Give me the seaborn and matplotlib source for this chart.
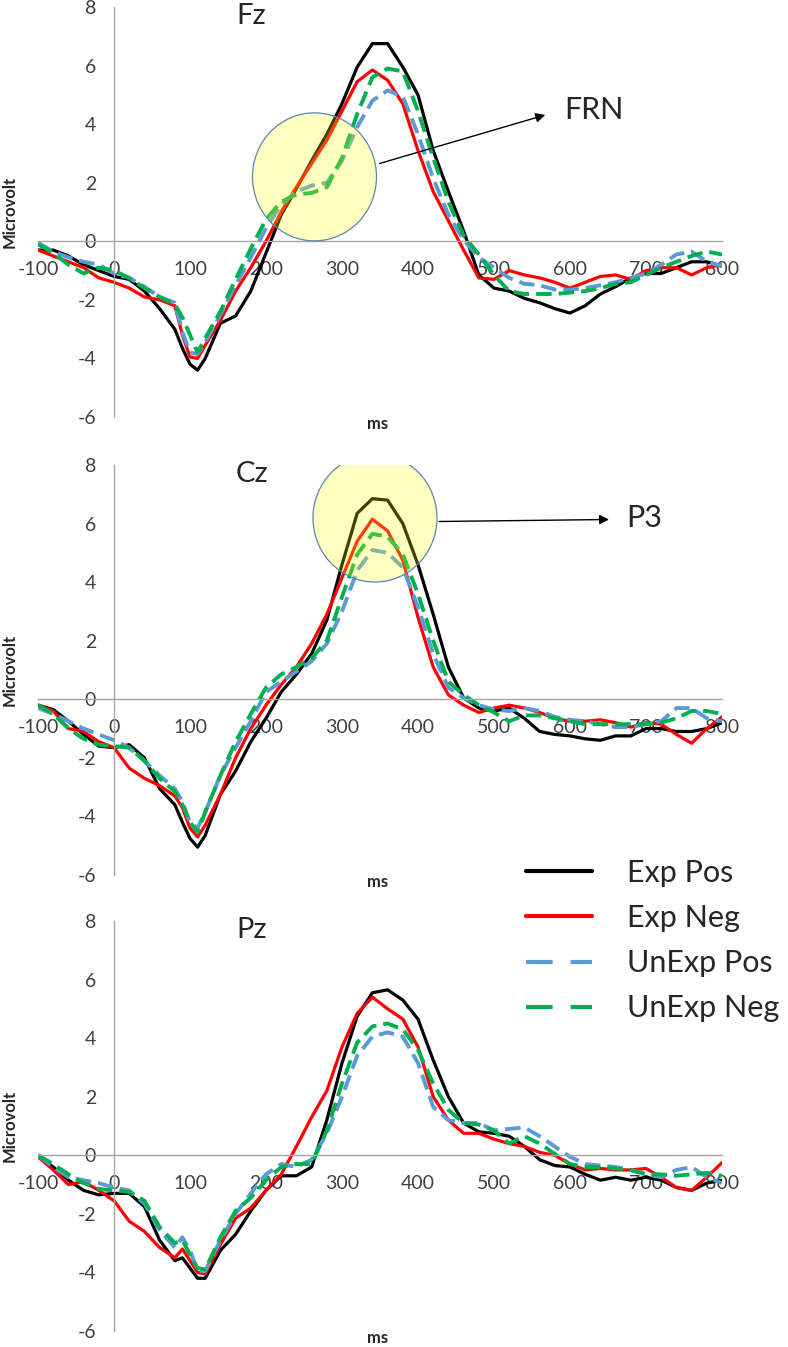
import numpy as np
import pandas as pd
import matplotlib
matplotlib.use("Agg")
import matplotlib.pyplot as plt
from matplotlib.patches import Ellipse
from matplotlib.lines import Line2D
import seaborn as sns

# time points (ms)
TIME = [-100, -80, -60, -40, -20, 0, 20, 40, 60, 80, 90, 100, 110, 120,
        140, 160, 180, 200, 220, 240, 260, 280, 300, 320, 340, 360, 380, 400,
        420, 440, 460, 480, 500, 520, 540, 560, 580, 600, 620, 640, 660, 680,
        700, 720, 740, 760, 780, 800]

CONDS = ["Exp Pos", "Exp Neg", "UnExp Pos", "UnExp Neg"]

# Fz
fz_exp_pos = [-0.3, -0.3, -0.5, -0.8, -1.0, -1.2, -1.3, -1.7, -2.3, -3.0, -3.65, -4.2, -4.4, -4.0,
              -2.8, -2.55, -1.7, -0.4, 0.9, 1.8, 2.75, 3.65, 4.7, 5.95, 6.75, 6.75, 5.95, 5.0,
              3.1, 1.7, 0.35, -1.15, -1.6, -1.7, -1.95, -2.1, -2.3, -2.45, -2.2, -1.8, -1.55, -1.25,
              -1.1, -1.1, -0.9, -0.7, -0.7, -0.85]
fz_exp_neg = [-0.3, -0.5, -0.7, -0.9, -1.25, -1.4, -1.6, -1.9, -2.0, -2.2, -3.2, -3.95, -4.0, -3.55,
              -2.7, -1.7, -0.9, 0.0, 1.0, 1.85, 2.65, 3.45, 4.45, 5.45, 5.85, 5.5, 4.7, 3.1,
              1.7, 0.7, -0.3, -1.25, -1.3, -1.0, -1.15, -1.25, -1.4, -1.6, -1.4, -1.2, -1.15, -1.3,
              -1.0, -0.9, -0.9, -1.15, -0.9, -0.8]
fz_unexp_pos = [-0.05, -0.35, -0.55, -0.7, -0.8, -1.1, -1.25, -1.55, -1.9, -2.1, -3.1, -3.8, -3.85, -3.45,
                -2.5, -1.5, -0.55, 0.45, 1.25, 1.7, 1.9, 2.0, 2.75, 3.9, 4.8, 5.15, 4.95, 3.65,
                2.15, 0.9, 0.05, -0.55, -0.9, -1.25, -1.45, -1.5, -1.65, -1.65, -1.6, -1.5, -1.4, -1.25,
                -1.1, -0.8, -0.45, -0.35, -0.7, -0.85]
fz_unexp_neg = [-0.1, -0.4, -0.8, -1.1, -0.9, -1.0, -1.25, -1.6, -1.9, -2.15, -2.6, -3.2, -3.8, -3.3,
                -2.4, -1.3, -0.25, 0.75, 1.35, 1.6, 1.65, 1.85, 2.85, 4.35, 5.6, 5.9, 5.8, 4.45,
                2.85, 1.35, 0.2, -0.45, -1.15, -1.7, -1.8, -1.8, -1.8, -1.75, -1.7, -1.6, -1.45, -1.4,
                -1.15, -0.9, -0.7, -0.5, -0.35, -0.45]

# Cz
cz_exp_pos = [-0.2, -0.35, -0.75, -1.2, -1.6, -1.65, -1.55, -2.0, -3.05, -3.6, -4.2, -4.75, -5.05, -4.65,
              -3.25, -2.45, -1.45, -0.65, 0.25, 0.85, 1.55, 2.7, 4.6, 6.35, 6.85, 6.8, 6.0, 4.6,
              2.9, 1.1, 0.05, -0.3, -0.4, -0.3, -0.65, -1.1, -1.2, -1.25, -1.35, -1.4, -1.25, -1.25,
              -1.0, -1.0, -1.1, -1.1, -1.0, -0.8]
cz_exp_neg = [-0.2, -0.4, -1.0, -1.1, -1.45, -1.65, -2.35, -2.7, -2.95, -3.3, -3.7, -4.4, -4.7, -4.3,
              -3.25, -2.0, -1.0, -0.2, 0.5, 1.1, 1.9, 2.9, 4.15, 5.4, 6.15, 5.75, 4.75, 2.8,
              1.1, 0.15, -0.2, -0.45, -0.3, -0.2, -0.3, -0.45, -0.65, -0.75, -0.75, -0.7, -0.8, -0.95,
              -0.8, -0.85, -1.2, -1.5, -1.0, -0.6]
cz_unexp_pos = [-0.3, -0.5, -0.75, -1.0, -1.2, -1.4, -1.65, -2.1, -2.6, -3.05, -3.5, -4.2, -4.4, -3.85,
                -2.6, -1.65, -0.75, 0.25, 0.6, 0.95, 1.3, 1.9, 3.0, 4.4, 5.1, 5.0, 4.5, 3.15,
                1.55, 0.4, 0.05, -0.2, -0.35, -0.4, -0.3, -0.4, -0.6, -0.7, -0.75, -0.85, -0.95, -0.95,
                -0.85, -0.75, -0.3, -0.3, -0.65, -0.75]
cz_unexp_neg = [-0.2, -0.5, -1.0, -1.35, -1.55, -1.6, -1.65, -2.1, -2.7, -3.15, -3.6, -4.2, -4.55, -3.85,
                -2.6, -1.45, -0.5, 0.4, 0.85, 1.1, 1.4, 2.0, 3.5, 4.95, 5.65, 5.55, 4.95, 3.6,
                2.0, 0.6, 0.15, -0.2, -0.45, -0.75, -0.55, -0.55, -0.65, -0.75, -0.85, -0.85, -0.85, -0.85,
                -0.85, -0.8, -0.65, -0.4, -0.4, -0.5]

# Pz
pz_exp_pos = [-0.05, -0.4, -0.85, -1.2, -1.35, -1.3, -1.3, -1.75, -2.9, -3.6, -3.5, -3.85, -4.2, -4.2,
              -3.25, -2.7, -1.9, -1.2, -0.7, -0.7, -0.4, 1.2, 3.15, 4.75, 5.55, 5.65, 5.3, 4.65,
              3.25, 2.0, 1.1, 0.8, 0.75, 0.65, 0.3, -0.15, -0.35, -0.4, -0.65, -0.85, -0.75, -0.85,
              -0.75, -0.85, -1.1, -1.2, -0.95, -0.85]
pz_exp_neg = [-0.05, -0.5, -1.0, -0.9, -1.2, -1.55, -2.25, -2.6, -3.15, -3.5, -3.2, -3.6, -4.0, -4.05,
              -3.05, -2.15, -1.8, -1.2, -0.65, 0.3, 1.3, 2.2, 3.7, 4.85, 5.4, 5.0, 4.65, 3.7,
              2.0, 1.2, 0.75, 0.75, 0.55, 0.4, 0.3, 0.1, 0.0, -0.3, -0.5, -0.45, -0.5, -0.5,
              -0.45, -0.75, -1.1, -1.2, -0.75, -0.25]
pz_unexp_pos = [0.0, -0.4, -0.75, -0.85, -0.95, -1.1, -1.2, -1.65, -2.55, -3.15, -2.8, -3.25, -3.95, -3.95,
                -2.9, -2.0, -1.3, -0.65, -0.3, -0.4, -0.15, 0.75, 2.0, 3.4, 4.05, 4.2, 4.05, 3.15,
                1.65, 1.2, 1.1, 1.1, 0.85, 0.9, 0.95, 0.65, 0.3, -0.05, -0.3, -0.35, -0.4, -0.5,
                -0.65, -0.75, -0.5, -0.4, -0.75, -0.95]
pz_unexp_neg = [0.0, -0.3, -0.65, -0.95, -1.15, -1.2, -1.25, -1.55, -2.45, -3.0, -2.9, -3.4, -3.85, -3.9,
                -2.8, -1.9, -1.45, -0.85, -0.4, -0.3, -0.3, 0.85, 2.45, 3.85, 4.4, 4.5, 4.3, 3.6,
                2.45, 1.55, 1.1, 1.05, 0.85, 0.4, 0.65, 0.4, 0.05, -0.3, -0.4, -0.4, -0.45, -0.5,
                -0.65, -0.65, -0.7, -0.65, -0.6, -0.7]

PANELS = {
    "Fz": [fz_exp_pos, fz_exp_neg, fz_unexp_pos, fz_unexp_neg],
    "Cz": [cz_exp_pos, cz_exp_neg, cz_unexp_pos, cz_unexp_neg],
    "Pz": [pz_exp_pos, pz_exp_neg, pz_unexp_pos, pz_unexp_neg],
}

palette = {"Exp Pos": "#000000", "Exp Neg": "#ff0000",
           "UnExp Pos": "#5b9bd5", "UnExp Neg": "#00b050"}
dashes = {"Exp Pos": "", "Exp Neg": "", "UnExp Pos": (4, 1.8), "UnExp Neg": (4, 1.8)}
sizes = {"Exp Pos": 2.3, "Exp Neg": 2.3, "UnExp Pos": 2.8, "UnExp Neg": 2.8}

sns.set_style("white")
plt.rcParams["font.family"] = ["Lato", "DejaVu Sans"]
plt.rcParams["axes.unicode_minus"] = False

W, H = 788, 1347
fig = plt.figure(figsize=(W / 100, H / 100), dpi=100)

tops = [7, 465, 921]
axes = []
for (name, series), top in zip(PANELS.items(), tops):
    ax = fig.add_axes([38 / W, 1 - (top + 410) / H, 684 / W, 410 / H])
    rows = []
    for cond, vals in zip(CONDS, series):
        for t, v in zip(TIME, vals):
            rows.append((t, v, cond))
    df = pd.DataFrame(rows, columns=["ms", "uV", "cond"])
    sns.lineplot(data=df, x="ms", y="uV", hue="cond", style="cond", size="cond",
                 palette=palette, dashes=dashes, sizes=sizes, hue_order=CONDS,
                 style_order=CONDS, size_order=CONDS, legend=False, ax=ax)

    ax.set_xlim(-100, 800)
    ax.set_ylim(-6, 8)
    ax.patch.set_alpha(0)
    for s in ["top", "right"]:
        ax.spines[s].set_visible(False)
    ax.spines["left"].set_position(("data", 0))
    ax.spines["bottom"].set_position(("data", 0))
    for s in ["left", "bottom"]:
        ax.spines[s].set_color("#a6a6a6")
        ax.spines[s].set_linewidth(1.0)
    ax.set_xticks(range(-100, 801, 100))
    ax.set_yticks(range(-6, 9, 2))
    ax.tick_params(axis="x", direction="out", length=5, width=1, color="#a6a6a6",
                   labelsize=14, labelcolor="#404040", pad=9)
    ax.tick_params(axis="y", direction="out", length=5, width=1, color="#a6a6a6",
                   labelsize=14, labelcolor="#404040", pad=8)
    ax.set_xlabel("")
    ax.set_ylabel("")
    ax.text(181, 7.7, name, fontsize=21, ha="center", va="center")
    ax.text(-137, 1.0, "Microvolt", fontsize=12, fontweight="bold", rotation=90,
            ha="center", va="center", clip_on=False)
    ax.text(347, -6.25, "ms", fontsize=12, fontweight="bold", ha="center",
            va="center", clip_on=False)
    axes.append(ax)

# highlight circles and annotations
ax1, ax2, ax3 = axes
for ax, cx, cy in [(ax1, 263.8, 2.2), (ax2, 343.4, 6.19)]:
    ax.add_patch(Ellipse((cx, cy), 124 / 0.76, 128 / 29.29,
                         facecolor=(1, 1, 0, 0.25), edgecolor="#5b86b0",
                         linewidth=0.9, zorder=5))

ax1.annotate("", xy=(571, 4.34), xytext=(346, 2.63),
             arrowprops=dict(arrowstyle="-|>", color="black", lw=1, mutation_scale=14),
             zorder=6)
ax1.text(592, 4.5, "FRN", fontsize=22, ha="left", va="center")
ax2.annotate("", xy=(655, 6.14), xytext=(424, 6.07),
             arrowprops=dict(arrowstyle="-|>", color="black", lw=1, mutation_scale=14),
             zorder=6)
ax2.text(674, 6.18, "P3", fontsize=22, ha="left", va="center")

handles = [
    Line2D([], [], color=palette["Exp Pos"], lw=3),
    Line2D([], [], color=palette["Exp Neg"], lw=3),
    Line2D([], [], color=palette["UnExp Pos"], lw=3, dashes=(6.4, 4.3)),
    Line2D([], [], color=palette["UnExp Neg"], lw=3, dashes=(6.4, 4.3)),
]
fig.legend(handles, CONDS, loc="upper left", bbox_to_anchor=(526 / W, 1 - 859 / H),
           frameon=False, fontsize=22, handlelength=2.16, handletextpad=1.15,
           labelspacing=0.56, borderpad=0, borderaxespad=0)

fig.savefig("out.png", dpi=100)
